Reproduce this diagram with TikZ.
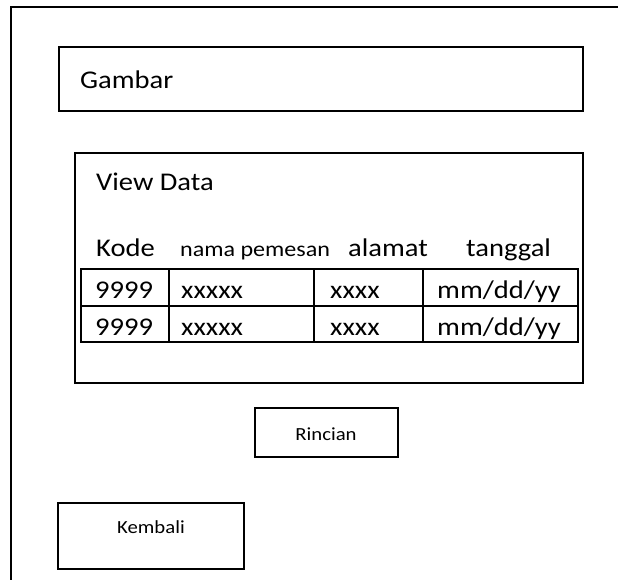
\documentclass[tikz,border=0pt]{standalone}
\usepackage{fontspec}
\setmainfont[FakeStretch=1.12]{Carlito}
\begin{document}
\begin{tikzpicture}[x=1pt,y=-1pt,
  frame/.style={draw=black,line width=1.4pt},
  box/.style={draw=black,line width=1.4pt},
  grid/.style={draw=black,line width=1.7pt},
  big/.style={anchor=base west,inner sep=0pt,font=\fontsize{25.5}{28}\selectfont},
  mid/.style={anchor=base west,inner sep=0pt,font=\fontsize{21.5}{24}\selectfont},
  small/.style={anchor=base,inner sep=0pt,font=\fontsize{18.5}{21}\selectfont}]
\useasboundingbox (0,0) rectangle (618,580);
\fill[white] (0,0) rectangle (618,580);
% outer frame (partly outside the picture)
\draw[frame] (11,580) -- (11,7) -- (618,7);
% Gambar
\draw[box] (59,47) rectangle (583,111);
\node[big] (gambar) at (80,89) {Gambar};
% View Data panel
\draw[box] (75,153) rectangle (583,383);
\node[big] (view) at (96,191) {View Data};
\node[big] (hkode) at (96,256) {Kode};
\node[mid] (hnama) at (180,256) {nama pemesan};
\node[big] (halamat) at (348,256) {alamat};
\node[big] (htgl) at (466,256) {tanggal};
% table
\draw[grid] (81,269) rectangle (578,342);
\draw[grid] (81,306) -- (578,306);
\draw[grid] (169,269) -- (169,342);
\draw[grid] (314,269) -- (314,342);
\draw[grid] (423,269) -- (423,342);
\node[big] (k1) at (95,298) {9999};
\node[big] (k2) at (95,335) {9999};
\node[big] (n1) at (181,298) {xxxxx};
\node[big] (n2) at (181,335) {xxxxx};
\node[big] (a1) at (330,298) {xxxx};
\node[big] (a2) at (330,335) {xxxx};
\node[big] (t1) at (437,298) {mm/dd/yy};
\node[big] (t2) at (437,335) {mm/dd/yy};
% buttons
\draw[box] (255,408) rectangle (398,457);
\node[small] (rincian) at (326,440) {Rincian};
\draw[box] (58,503) rectangle (244,569);
\node[small] (kembali) at (151,533) {Kembali};
\end{tikzpicture}
\end{document}
